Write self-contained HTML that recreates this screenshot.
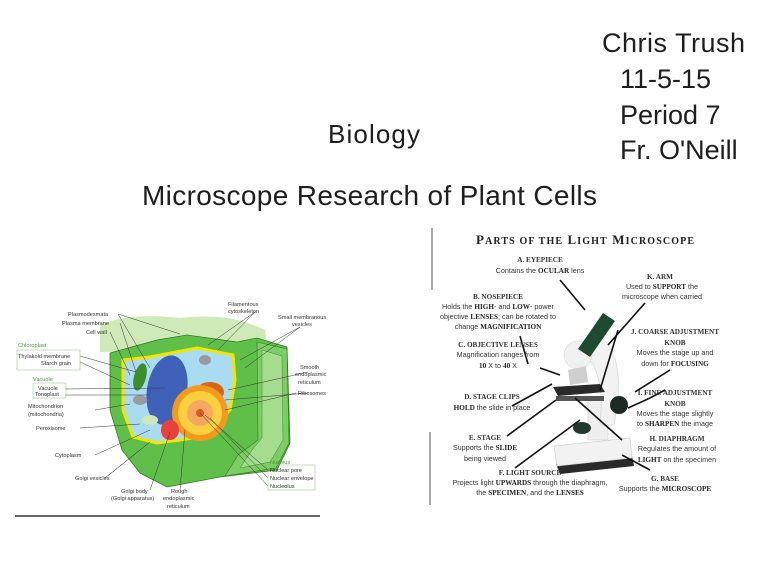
<!DOCTYPE html>
<html><head><meta charset="utf-8"><style>
html,body{margin:0;padding:0;background:#fff;}
svg{display:block;}
.t{font-family:"Liberation Sans",sans-serif;fill:#1e1e1e;}
.s{font-family:"Liberation Sans",sans-serif;fill:#333;font-size:5.6px;}
.g{font-family:"Liberation Sans",sans-serif;fill:#4a9a3a;font-size:5.6px;}
.m{font-family:"Liberation Sans",sans-serif;fill:#333;font-size:7.2px;text-anchor:middle;}
.b{font-family:"Liberation Serif",serif;font-weight:bold;fill:#222;}
</style></head><body>
<svg width="768" height="561" viewBox="0 0 768 561" xmlns="http://www.w3.org/2000/svg">
<rect width="768" height="561" fill="#fff"/>
<text class="t" x="602" y="52" font-size="27" textLength="143">Chris Trush</text>
<text class="t" x="620" y="88" font-size="27">11-5-15</text>
<text class="t" x="620" y="124" font-size="27">Period 7</text>
<text class="t" x="620" y="159" font-size="27">Fr. O'Neill</text>
<text class="t" x="328" y="143" font-size="26" textLength="92">Biology</text>
<text class="t" x="142" y="205" font-size="28" textLength="455">Microscope Research of Plant Cells</text>

<line x1="15" y1="516" x2="320" y2="516" stroke="#333" stroke-width="1.5"/>
<path d="M100,325 Q130,312 180,318 Q230,312 265,330 L268,350 L100,352 Z" fill="#cfeab8"/>
<path d="M110,353 L157,340 L187,335 L237,342 L257,338 L287,347 L290,443 L277,470 L220,477 L167,487 L140,473 L122,450 L110,410 Z" fill="#5fbf48" stroke="#2e7d22" stroke-width="0.8"/>
<path d="M257,342 L287,349 L289,443 L276,468 L225,476 L238,455 L258,440 Z" fill="#7ccd63" stroke="#2e7d22" stroke-width="0.6"/>
<path d="M262,350 L282,356 L283,440 L270,462 L240,468 L252,450 L262,438 Z" fill="#a5dc8e" stroke="#3c8a2e" stroke-width="0.5"/>
<path d="M123,360 L150,357 L197,348 L233,355 L235,380 L230,410 L220,420 L200,437 L180,440 L157,443 L133,437 L123,410 Z" fill="#a9dcf0" stroke="#f2e600" stroke-width="3"/>
<ellipse cx="167" cy="390" rx="20" ry="35" transform="rotate(10 167 390)" fill="#3f62b8"/>
<ellipse cx="210" cy="392" rx="14" ry="10" fill="#d9651a"/>
<circle cx="200" cy="413" r="28" fill="#f29a1c"/>
<circle cx="200" cy="413" r="22" fill="#fbd040"/>
<circle cx="200" cy="413" r="13" fill="#f7a860"/>
<circle cx="200" cy="413" r="4" fill="#e05a20"/>
<ellipse cx="170" cy="430" rx="9" ry="10" fill="#e8403a"/>
<ellipse cx="140" cy="377" rx="6" ry="14" transform="rotate(15 140 377)" fill="#3b8f2a"/>
<ellipse cx="140" cy="400" rx="7" ry="5" fill="#9a9aa0"/>
<ellipse cx="205" cy="360" rx="6" ry="5" fill="#9a9aa0"/>
<ellipse cx="150" cy="420" rx="8" ry="5" fill="#cfe8b8"/>
<g stroke="#333" stroke-width="0.5" fill="none">
<path d="M118,314 L180,334 M118,314 L150,368 M120,323 L136,372 M110,332 L130,375 M80,356 L136,372 M80,362 L130,385 M65,389 L165,388 M65,395 L150,395 M95,410 L130,404 M80,428 L140,424 M95,455 L150,430 M105,478 L140,450 M105,478 L150,442 M150,490 L170,432 M180,490 L185,430 M255,312 L208,345 M255,312 L218,350 M300,327 L240,360 M300,327 L245,368 M308,372 L228,390 M308,393 L225,400 M296,393 L225,410 M268,470 L205,415 M268,478 L210,418 M268,486 L200,413"/>
</g>
<rect x="17" y="350" width="63" height="20" fill="none" stroke="#8bbf7c" stroke-width="0.5"/>
<rect x="33" y="383" width="33" height="15" fill="none" stroke="#8bbf7c" stroke-width="0.5"/>
<rect x="268" y="465" width="47" height="25" fill="none" stroke="#8bbf7c" stroke-width="0.5"/>
<text class="s" x="68" y="316">Plasmodesmata</text>
<text class="s" x="62" y="325">Plasma membrane</text>
<text class="s" x="86" y="334">Cell wall</text>
<text class="g" x="18" y="347">Chloroplast</text>
<text class="s" x="18" y="358">Thylakoid membrane</text>
<text class="s" x="41" y="365">Starch grain</text>
<text class="g" x="33" y="381">Vacuole</text>
<text class="s" x="38" y="390">Vacuole</text>
<text class="s" x="35" y="396">Tonoplast</text>
<text class="s" x="28" y="408">Mitochondrion</text>
<text class="s" x="28" y="416">(mitochondria)</text>
<text class="s" x="36" y="430">Peroxisome</text>
<text class="s" x="55" y="457">Cytoplasm</text>
<text class="s" x="75" y="480">Golgi vesicles</text>
<text class="s" x="121" y="493">Golgi body</text>
<text class="s" x="111" y="500">(Golgi apparatus)</text>
<text class="s" x="171" y="493">Rough</text>
<text class="s" x="163" y="500">endoplasmic</text>
<text class="s" x="167" y="508">reticulum</text>
<text class="s" x="228" y="306">Filamentous</text>
<text class="s" x="228" y="313">cytoskeleton</text>
<text class="s" x="278" y="319">Small membranous</text>
<text class="s" x="292" y="326">vesicles</text>
<text class="s" x="300" y="369">Smooth</text>
<text class="s" x="295" y="376">endoplasmic</text>
<text class="s" x="298" y="384">reticulum</text>
<text class="s" x="298" y="395">Ribosomes</text>
<text class="g" x="270" y="464">Nucleus</text>
<text class="s" x="270" y="472">Nuclear pore</text>
<text class="s" x="270" y="480">Nuclear envelope</text>
<text class="s" x="270" y="488">Nucleolus</text>

<line x1="432" y1="228" x2="432" y2="290" stroke="#555" stroke-width="1"/>
<line x1="430" y1="432" x2="430" y2="505" stroke="#555" stroke-width="1"/>
<text class="b" x="476" y="244" font-size="13" textLength="218">P<tspan font-size="10">ARTS OF THE</tspan> L<tspan font-size="10">IGHT</tspan> M<tspan font-size="10">ICROSCOPE</tspan></text>
<path d="M556,464 L632,456 L634,466 L560,474 Z" fill="#2a2a2a"/>
<path d="M554,446 L630,438 L632,458 L557,466 Z" fill="#f2f2f2" stroke="#c8c8c8" stroke-width="0.6"/>
<rect x="588" y="398" width="20" height="42" fill="#eeeeee" stroke="#c8c8c8" stroke-width="0.5"/>
<ellipse cx="582" cy="428" rx="9" ry="6" fill="#1f3a2c"/>
<path d="M598,335 Q628,355 614,425 L600,425 Q606,372 583,352 Z" fill="#f2f2f2" stroke="#c8c8c8" stroke-width="0.5"/>
<path d="M553,387 L600,384 L605,392 L558,396 Z" fill="#2a2a2a"/>
<rect x="556" y="396" width="48" height="5" fill="#555"/>
<circle cx="619" cy="405" r="9" fill="#1f2a24"/>
<circle cx="578" cy="355" r="14" fill="#f0f0f0" stroke="#ccc" stroke-width="0.5"/>
<path d="M568,370 L586,366 L588,382 L570,385 Z" fill="#cfcfcf"/>
<path d="M603,313 L615,321 L590,357 L578,349 Z" fill="#1f4a32"/>
<g stroke="#111" stroke-width="1.6" fill="#111">
<path d="M560,280 L585,310 M645,303 L608,345 M520,336 L528,364 M540,368 L560,375 M512,406 L552,384 M507,436 L556,400 M515,468 L580,420 M622,440 L575,398 M650,470 L622,455 M665,390 L650,398 L628,408 M670,370 L635,392 M618,330 L600,390"/>
</g>
<g font-size="7.2">
<text class="m" x="540" y="262"><tspan font-weight="bold" font-family="Liberation Serif">A. EYEPIECE</tspan></text>
<text class="m" x="540" y="273">Contains the <tspan class="b">OCULAR</tspan> lens</text>
<text class="m" x="660" y="279"><tspan font-weight="bold" font-family="Liberation Serif">K. ARM</tspan></text>
<text class="m" x="662" y="289">Used to <tspan class="b">SUPPORT</tspan> the</text>
<text class="m" x="662" y="299">microscope when carried</text>
<text class="m" x="498" y="299"><tspan font-weight="bold" font-family="Liberation Serif">B. NOSEPIECE</tspan></text>
<text class="m" x="498" y="309">Holds the <tspan class="b">HIGH</tspan>- and <tspan class="b">LOW</tspan>- power</text>
<text class="m" x="498" y="319">objective <tspan class="b">LENSES</tspan>;  can be rotated to</text>
<text class="m" x="498" y="329">change <tspan class="b">MAGNIFICATION</tspan></text>
<text class="m" x="498" y="347"><tspan font-weight="bold" font-family="Liberation Serif">C. OBJECTIVE LENSES</tspan></text>
<text class="m" x="498" y="357">Magnification ranges from</text>
<text class="m" x="498" y="368"><tspan class="b">10</tspan> X to <tspan class="b">40</tspan> X</text>
<text class="m" x="675" y="334"><tspan font-weight="bold" font-family="Liberation Serif">J. COARSE ADJUSTMENT</tspan></text>
<text class="m" x="675" y="345"><tspan font-weight="bold" font-family="Liberation Serif">KNOB</tspan></text>
<text class="m" x="675" y="355">Moves the stage up and</text>
<text class="m" x="675" y="366">down for <tspan class="b">FOCUSING</tspan></text>
<text class="m" x="492" y="399"><tspan font-weight="bold" font-family="Liberation Serif">D. STAGE CLIPS</tspan></text>
<text class="m" x="492" y="410"><tspan class="b">HOLD</tspan> the slide in place</text>
<text class="m" x="675" y="395"><tspan font-weight="bold" font-family="Liberation Serif">I. FINE ADJUSTMENT</tspan></text>
<text class="m" x="675" y="406"><tspan font-weight="bold" font-family="Liberation Serif">KNOB</tspan></text>
<text class="m" x="675" y="416">Moves the stage slightly</text>
<text class="m" x="675" y="426">to <tspan class="b">SHARPEN</tspan> the image</text>
<text class="m" x="485" y="440"><tspan font-weight="bold" font-family="Liberation Serif">E. STAGE</tspan></text>
<text class="m" x="485" y="450">Supports the <tspan class="b">SLIDE</tspan></text>
<text class="m" x="485" y="461">being viewed</text>
<text class="m" x="677" y="441"><tspan font-weight="bold" font-family="Liberation Serif">H. DIAPHRAGM</tspan></text>
<text class="m" x="677" y="451">Regulates the amount of</text>
<text class="m" x="677" y="462"><tspan class="b">LIGHT</tspan> on the specimen</text>
<text class="m" x="530" y="475"><tspan font-weight="bold" font-family="Liberation Serif">F. LIGHT SOURCE</tspan></text>
<text class="m" x="530" y="485">Projects light <tspan class="b">UPWARDS</tspan> through the diaphragm,</text>
<text class="m" x="530" y="495">the <tspan class="b">SPECIMEN</tspan>, and the <tspan class="b">LENSES</tspan></text>
<text class="m" x="665" y="481"><tspan font-weight="bold" font-family="Liberation Serif">G. BASE</tspan></text>
<text class="m" x="665" y="491">Supports the <tspan class="b">MICROSCOPE</tspan></text>
</g>
</svg>
</body></html>
